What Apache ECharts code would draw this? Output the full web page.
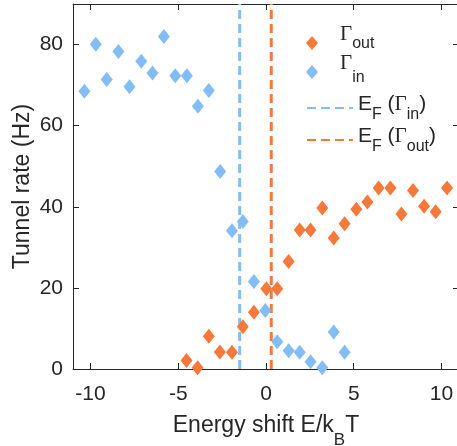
<!DOCTYPE html>
<html>
<head>
<meta charset="utf-8">
<script src="https://cdn.jsdelivr.net/npm/echarts@6/dist/echarts.min.js"></script>
<style>html,body{margin:0;padding:0;background:#fff}#c{width:457px;height:446px}</style>
</head>
<body>
<div id="c"></div>
<script>
// ---- data ----
const outX = [-4.53,-3.90,-3.26,-2.63,-1.94,-1.32,-0.69,0.02,0.64,1.29,1.92,2.54,3.21,3.86,4.48,5.15,5.78,6.42,7.09,7.72,8.38,9.01,9.67,10.32];
const outY = [2.1,0.3,8.1,4.2,4.1,10.4,14.0,19.8,19.8,26.5,34.3,34.3,39.7,32.3,35.8,39.4,41.2,44.6,44.6,38.2,44.0,40.1,38.8,44.6];
const inX = [-10.35,-9.70,-9.08,-8.41,-7.78,-7.11,-6.47,-5.82,-5.17,-4.51,-3.88,-3.26,-2.61,-1.94,-1.32,-0.69,-0.04,0.64,1.29,1.92,2.54,3.21,3.86,4.48];
const inY = [68.5,80.1,71.4,78.3,69.6,75.9,73.0,82.0,72.3,72.3,64.8,68.7,48.7,34.1,36.4,21.6,14.4,6.7,4.5,4.1,1.8,0.3,9.1,4.1];
const efIn = -1.5;
const efOut = 0.3;
const xTicks = [-10,-5,0,5,10];
const yTicks = [0,20,40,60,80];
const xRange = [-11, 11];
const yRange = [0, 90];
const names = ['Γout','Γin','EF(Γin)','EF(Γout)'];

// ---- style ----
const ORANGE = '#F5793A';
const BLUE = '#82BEF5';
const AX = '#262626';
const SANS = 'Liberation Sans';
const SERIF = 'Liberation Serif';
const DIAMOND = 'path://M6,0L12,7L6,14L0,7Z';

const chart = echarts.init(document.getElementById('c'), null, {renderer: 'canvas'});

function axisCommon(extra) {
  return Object.assign({
    type: 'value',
    axisLine: {show: true, onZero: false, lineStyle: {color: AX, width: 1}},
    axisTick: {show: true, inside: true, length: 6, lineStyle: {color: AX, width: 1}},
    splitLine: {show: false}
  }, extra);
}

const legendBase = {
  left: 306, itemWidth: 46, itemHeight: 14, padding: 0, itemGap: 0,
  orient: 'vertical', selectedMode: false, symbolKeepAspect: true,
  textStyle: {color: AX, fontFamily: SANS, fontSize: 21}
};

function legendRow(name, top, fmt, rich, extra) {
  const o = Object.assign({}, legendBase, {
    top: top,
    data: [Object.assign({name: name}, extra && extra.item)],
    formatter: () => fmt,
    textStyle: Object.assign({}, legendBase.textStyle, {rich: rich})
  });
  if (extra && extra.itemStyle) o.itemStyle = extra.itemStyle;
  return o;
}

const option = {
  animation: false,
  backgroundColor: '#ffffff',
  grid: {left: 73, right: -2, top: 4, bottom: 77, containLabel: false, outerBoundsMode: 'none'},
  xAxis: [
    axisCommon({
      min: xRange[0], max: xRange[1], position: 'bottom',
      axisTick: {show: true, inside: true, length: 6, customValues: xTicks, lineStyle: {color: AX}},
      axisLabel: {customValues: xTicks, color: AX, fontFamily: SANS, fontSize: 21, margin: 15},
      name: 'Energy shift E/k{b|B}T', nameLocation: 'middle', nameGap: 33, nameMoveOverlap: false,
      nameTextStyle: {color: AX, fontFamily: SANS, fontSize: 23,
        rich: {b: {fontFamily: SANS, fontSize: 17, color: AX, padding: [30, 0, 0, 0]}}}
    }),
    axisCommon({
      min: xRange[0], max: xRange[1], position: 'top',
      axisTick: {show: true, inside: true, length: 6, customValues: xTicks, lineStyle: {color: AX}},
      axisLabel: {show: false}
    })
  ],
  yAxis: [
    axisCommon({
      min: yRange[0], max: yRange[1], position: 'left',
      axisTick: {show: true, inside: true, length: 6, customValues: yTicks, lineStyle: {color: AX}},
      axisLabel: {customValues: yTicks, color: AX, fontFamily: SANS, fontSize: 21, margin: 10},
      name: 'Tunnel rate (Hz)', nameLocation: 'middle', nameGap: 39, nameMoveOverlap: false,
      nameTextStyle: {color: AX, fontFamily: SANS, fontSize: 23}
    }),
    axisCommon({
      min: yRange[0], max: yRange[1], position: 'right',
      axisTick: {show: true, inside: true, length: 6, customValues: yTicks, lineStyle: {color: AX}},
      axisLabel: {show: false}
    })
  ],
  legend: [
    legendRow(names[0], 24, '{g|Γ}{s|out}', {
      g: {fontFamily: SERIF, fontSize: 21, color: AX, padding: [0, 0, 17, 0]},
      s: {fontFamily: SANS, fontSize: 16, color: AX, padding: [2, 0, 0, 0]}
    }, {item: {icon: DIAMOND, itemStyle: {color: ORANGE}}}),
    legendRow(names[1], 53, '{g|Γ}{s|in}', {
      g: {fontFamily: SERIF, fontSize: 21, color: AX, padding: [0, 0, 17, 0]},
      s: {fontFamily: SANS, fontSize: 16, color: AX, padding: [12, 0, 0, 0]}
    }, {item: {icon: DIAMOND, itemStyle: {color: BLUE}}}),
    legendRow(names[2], 94, '{e|E}{s|F}{e| (}{g|Γ}{s|in}{e|)}', {
      e: {fontFamily: SANS, fontSize: 21, color: AX, padding: [0, 0, 7, 0]},
      g: {fontFamily: SERIF, fontSize: 21, color: AX, padding: [0, 0, 7, 0]},
      s: {fontFamily: SANS, fontSize: 16, color: AX, padding: [14, 0, 0, 0]}
    }, {itemStyle: {opacity: 0}}),
    legendRow(names[3], 126, '{e|E}{s|F}{e| (}{g|Γ}{s|out}{e|)}', {
      e: {fontFamily: SANS, fontSize: 21, color: AX, padding: [0, 0, 7, 0]},
      g: {fontFamily: SERIF, fontSize: 21, color: AX, padding: [0, 0, 7, 0]},
      s: {fontFamily: SANS, fontSize: 16, color: AX, padding: [14, 0, 0, 0]}
    }, {itemStyle: {opacity: 0}})
  ],
  series: [
    {
      name: names[0], type: 'scatter', z: 3,
      symbol: 'diamond', symbolSize: [12, 15],
      itemStyle: {color: ORANGE, opacity: 1},
      data: outX.map((x, i) => [x, outY[i]])
    },
    {
      name: names[1], type: 'scatter', z: 4,
      symbol: 'diamond', symbolSize: [12, 15],
      itemStyle: {color: BLUE, opacity: 1},
      data: inX.map((x, i) => [x, inY[i]])
    },
    {
      name: names[2], type: 'line', z: 2, symbol: 'none', showSymbol: false,
      lineStyle: {color: BLUE, width: 3, type: [9, 5]},
      itemStyle: {color: BLUE},
      data: [[efIn, yRange[0]], [efIn, yRange[1]]]
    },
    {
      name: names[3], type: 'line', z: 2, symbol: 'none', showSymbol: false,
      lineStyle: {color: ORANGE, width: 3, type: [9, 5]},
      itemStyle: {color: ORANGE},
      data: [[efOut, yRange[0]], [efOut, yRange[1]]]
    }
  ]
};
chart.setOption(option);
</script>
</body>
</html>
